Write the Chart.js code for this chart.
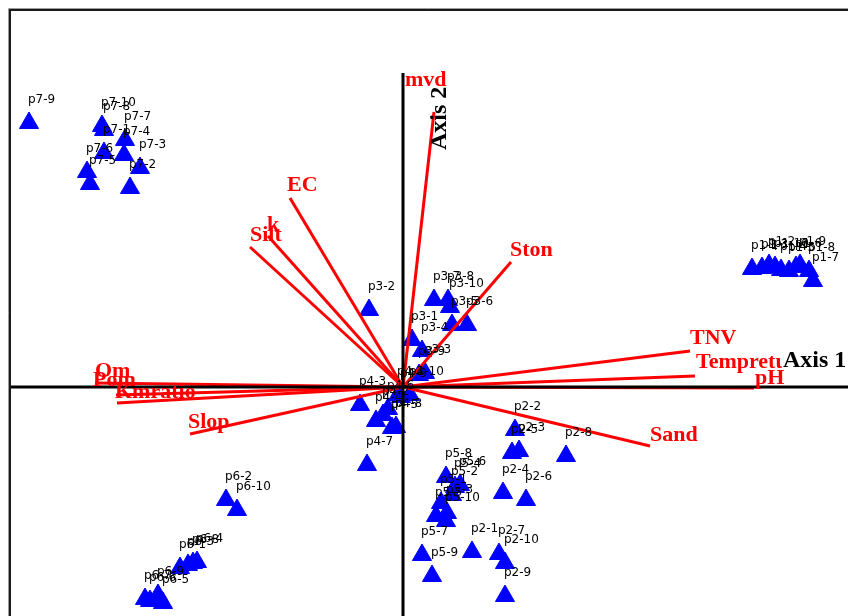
<!DOCTYPE html>
<html>
<head>
<meta charset="utf-8">
<script src="https://cdn.jsdelivr.net/npm/chart.js@4/dist/chart.umd.min.js"></script>
<style>
  html, body { margin: 0; padding: 0; background: #fff; overflow: hidden; }
  #wrap { width: 848px; height: 616px; position: relative; }
</style>
</head>
<body>
<div id="wrap"><canvas id="c"></canvas></div>
<script>
// Site scores (CCA axis 1 / axis 2)
const siteLabels = [
  'p1-1','p1-2','p1-3','p1-4','p1-5','p1-6','p1-7','p1-8','p1-9','p1-10',
  'p2-1','p2-2','p2-3','p2-4','p2-5','p2-6','p2-7','p2-8','p2-9','p2-10',
  'p3-1','p3-2','p3-3','p3-4','p3-5','p3-6','p3-7','p3-8','p3-9','p3-10',
  'p4-1','p4-2','p4-3','p4-4','p4-5','p4-6','p4-7','p4-8','p4-9','p4-10',
  'p5-1','p5-2','p5-3','p5-4','p5-5','p5-6','p5-7','p5-8','p5-9','p5-10',
  'p6-1','p6-2','p6-3','p6-4','p6-5','p6-6','p6-7','p6-8','p6-9','p6-10',
  'p7-1','p7-2','p7-3','p7-4','p7-5','p7-6','p7-7','p7-8','p7-9','p7-10'
];
const siteX = [
  3.49, 3.66, 3.59, 3.78, 3.86, 3.93, 4.10, 4.06, 3.97, 3.72,
  0.69, 1.12, 1.16, 1.00, 1.09, 1.23, 0.96, 1.63, 1.02, 1.02,
  0.09, -0.34, 0.22, 0.19, 0.49, 0.64, 0.31, 0.45, 0.16, 0.47,
  -0.05, -0.20, -0.43, -0.27, -0.11, -0.15, -0.36, -0.07, -0.02, 0.07,
  0.38, 0.49, 0.44, 0.52, 0.33, 0.57, 0.19, 0.43, 0.29, 0.43,
  -2.23, -1.77, -2.15, -2.06, -2.40, -2.53, -2.58, -2.10, -2.45, -1.66,
  -2.99, -2.73, -2.63, -2.79, -3.13, -3.16, -2.78, -2.99, -3.74, -3.01
];
const siteY = [
  1.18, 1.22, 1.19, 1.17, 1.16, 1.20, 1.06, 1.16, 1.22, 1.20,
  -1.65, -0.43, -0.64, -1.06, -0.66, -1.13, -1.67, -0.69, -2.09, -1.76,
  0.47, 0.77, 0.14, 0.36, 0.62, 0.62, 0.87, 0.87, 0.12, 0.80,
  -0.08, -0.28, -0.18, -0.34, -0.41, -0.22, -0.78, -0.40, -0.10, -0.08,
  -1.16, -1.08, -1.26, -1.00, -1.29, -0.98, -1.68, -0.90, -1.89, -1.34,
  -1.81, -1.13, -1.78, -1.75, -2.16, -2.14, -2.12, -1.76, -2.08, -1.23,
  2.34, 1.99, 2.19, 2.32, 2.03, 2.15, 2.47, 2.57, 2.64, 2.61
];

// Environmental variable vectors (arrow tips, same units)
const varNames = ['mvd','EC','k','Silt','Ston','TNV','Tempreture','pH','Sand','Slop','Om','Pom','Kmratio'];
const varX = [0.31, -1.13, -1.35, -1.53, 1.08, 2.87, 2.92, 3.51, 2.47, -2.13, -3.08, -2.87, -2.86];
const varY = [2.75, 1.89, 1.51, 1.40, 1.25, 0.36, 0.11, -0.01, -0.59, -0.47, 0.04, -0.08, -0.16];

// Axis extents
const xRange = [-3.92, 4.45];
const yRange = [-2.29, 3.76];
const axis2Top = 3.14;

// Pixel nudges for the variable names, relative to the arrow tip
const varLabelShift = [[-29,-26],[-3,-7],[-1,-5],[0,-6],[-1,-6],[0,-7],[1,-8],[1,-4],[0,-5],[-2,-6],[0,-6],[-23,-9],[-2,-5]];

const RED = '#ff0000';
const BLUE = '#0000ff';

const siteData = siteX.map((x, i) => ({ x, y: siteY[i] }));
const vectorSets = varNames.map((n, i) => ({
  label: n,
  data: [{ x: 0, y: 0 }, { x: varX[i], y: varY[i] }],
  showLine: true,
  borderColor: RED,
  borderWidth: 3,
  pointRadius: 0,
  fill: false,
  order: 1
}));

const decor = {
  id: 'biplotDecor',
  afterDatasetsDraw(chart) {
    const { ctx, chartArea: a, scales: { x, y } } = chart;
    const x0 = x.getPixelForValue(0);
    const y0 = y.getPixelForValue(0);
    ctx.save();

    // axes through the origin
    ctx.strokeStyle = '#000';
    ctx.lineWidth = 3;
    ctx.beginPath();
    ctx.moveTo(a.left, y0);
    ctx.lineTo(a.right, y0);
    ctx.moveTo(x0, y.getPixelForValue(axis2Top));
    ctx.lineTo(x0, a.bottom);
    ctx.stroke();

    // site names
    ctx.fillStyle = '#000';
    ctx.font = '12px "DejaVu Sans", sans-serif';
    ctx.textAlign = 'left';
    ctx.textBaseline = 'alphabetic';
    siteLabels.forEach((s, i) => {
      const px = x.getPixelForValue(siteX[i]);
      const py = y.getPixelForValue(siteY[i]);
      ctx.fillText(s, px - 1, py - 20);
    });

    // variable names
    ctx.fillStyle = RED;
    ctx.font = 'bold 22px "Liberation Serif", "Times New Roman", serif';
    varNames.forEach((n, i) => {
      const px = x.getPixelForValue(varX[i]);
      const py = y.getPixelForValue(varY[i]);
      ctx.fillText(n, px + varLabelShift[i][0], py + varLabelShift[i][1]);
    });

    // axis titles
    ctx.font = 'bold 24px "Liberation Serif", "Times New Roman", serif';
    const ax1x = x.getPixelForValue(3.80);
    ctx.fillStyle = '#fff';
    ctx.fillRect(ax1x - 1, y0 - 39, a.right - ax1x + 1, 21);
    ctx.fillStyle = '#000';
    ctx.fillText('Axis 1', ax1x, y0 - 20);

    ctx.save();
    ctx.translate(x0 + 43, y.getPixelForValue(2.37));
    ctx.rotate(-Math.PI / 2);
    ctx.fillText('Axis 2', 0, 0);
    ctx.restore();

    // plot frame (left and top edges)
    ctx.strokeStyle = '#9a9a9a';
    ctx.lineWidth = 1;
    ctx.beginPath();
    ctx.moveTo(a.left - 2.5, chart.height);
    ctx.lineTo(a.left - 2.5, a.top - 2.5);
    ctx.lineTo(chart.width, a.top - 2.5);
    ctx.stroke();
    ctx.strokeStyle = '#1a1a1a';
    ctx.lineWidth = 2;
    ctx.beginPath();
    ctx.moveTo(a.left - 1, chart.height);
    ctx.lineTo(a.left - 1, a.top - 1);
    ctx.lineTo(chart.width, a.top - 1);
    ctx.stroke();

    ctx.restore();
  }
};

new Chart(document.getElementById('c'), {
  type: 'scatter',
  data: {
    datasets: [
      {
        label: 'sites',
        data: siteData,
        pointStyle: 'triangle',
        pointRadius: 11,
        pointBackgroundColor: BLUE,
        pointBorderColor: BLUE,
        pointBorderWidth: 1,
        order: 2
      },
      ...vectorSets
    ]
  },
  options: {
    responsive: true,
    maintainAspectRatio: false,
    animation: false,
    events: [],
    layout: { autoPadding: false, padding: { left: 11, top: 11, right: 0, bottom: 0 } },
    plugins: { legend: { display: false }, tooltip: { enabled: false } },
    scales: {
      x: { type: 'linear', min: xRange[0], max: xRange[1], display: false },
      y: { type: 'linear', min: yRange[0], max: yRange[1], display: false }
    }
  },
  plugins: [decor]
});
</script>
</body>
</html>
